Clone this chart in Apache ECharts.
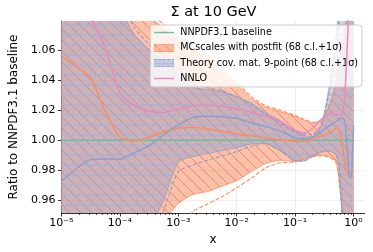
<!DOCTYPE html>
<html><head><meta charset="utf-8">
<script src="https://cdn.jsdelivr.net/npm/echarts@6/dist/echarts.min.js"></script>
<style>html,body{margin:0;padding:0;background:#fff}#c{width:373px;height:252px}</style>
</head><body><div id="c"></div>
<script>
// ---------------- data ----------------
const xGrid = [1e-5, 1.78e-5, 3.16e-5, 5.62e-5, 1e-4, 1.78e-4, 3.16e-4, 5.62e-4, 1e-3, 1.78e-3,
  3.16e-3, 5.62e-3, 0.01, 0.0178, 0.0316, 0.0562, 0.1, 0.141, 0.2, 0.282,
  0.398, 0.501, 0.562, 0.631, 0.708, 0.794, 0.851, 0.912, 0.955, 1.0];

const baseline = [1,1,1,1,1,1,1,1,1,1, 1,1,1,1,1,1,1,1,1,1, 1,1,1,1,1,1,1,1,1,1];

const nnlo = [1.13, 1.11, 1.083, 1.062, 1.0315, 1.023, 1.0195, 1.0185, 1.0208, 1.0228,
  1.0233, 1.0226, 1.021, 1.0185, 1.016, 1.0125, 1.0065, 1.0048, 1.008, 1.014,
  1.018, 1.017, 1.0175, 1.017, 1.03, 1.07, 1.1, 1.1, 1.1, 1.1];

const mcCentral = [1.056, 1.0495, 1.0415, 1.0193, 1.002, 0.9992, 1.002, 1.0055, 1.0082, 1.0085,
  1.0075, 1.006, 1.0042, 1.003, 1.0017, 1.0003, 0.9993, 0.9992, 1.0005, 1.003,
  1.005, 1.008, 1.0075, 0.998, 0.985, 0.977, 0.978, 0.979, 0.979, 0.979];
const mcLow68 = [0.9, 0.9, 0.9, 0.9, 0.9, 0.9, 0.93, 0.946, 0.9578, 0.9638,
  0.9658, 0.9694, 0.9731, 0.9791, 0.9846, 0.9866, 0.9859, 0.9875, 0.9894, 0.99,
  0.9889, 0.9855, 0.975, 0.953, 0.9, 0.9, 0.9, 0.9, 0.9, 0.9];
const mcHigh68 = [1.2, 1.2, 1.2, 1.2, 1.2, 1.2, 1.085, 1.0746, 1.0669, 1.0605,
  1.0543, 1.0459, 1.0373, 1.0277, 1.0221, 1.0191, 1.0159, 1.0135, 1.0115, 1.0132,
  1.024, 1.038, 1.048, 1.061, 1.072, 1.09, 1.2, 1.2, 1.2, 1.2];
const mcLow1s = [0.9, 0.9, 0.9, 0.9, 0.9, 0.9, 0.9, 0.92, 0.94, 0.9525,
  0.9574, 0.9624, 0.9683, 0.9748, 0.9817, 0.985, 0.9855, 0.9872, 0.989, 0.9897,
  0.9885, 0.985, 0.974, 0.952, 0.9, 0.9, 0.9, 0.9, 0.9, 0.9];
const mcHigh1s = [1.2, 1.2, 1.2, 1.2, 1.2, 1.2, 1.088, 1.077, 1.069, 1.063,
  1.057, 1.048, 1.039, 1.029, 1.023, 1.02, 1.0165, 1.014, 1.012, 1.0135,
  1.025, 1.04, 1.05, 1.063, 1.074, 1.092, 1.2, 1.2, 1.2, 1.2];

const tcCentral = [0.9727, 0.981, 0.9871, 0.9875, 0.9874, 0.9917, 0.9962, 1.0035, 1.0102, 1.0151,
  1.016, 1.0157, 1.0145, 1.0117, 1.009, 1.006, 1.0017, 1.0008, 1.002, 1.006,
  1.010, 1.0125, 1.014, 1.015, 1.013, 0.99, 0.975, 0.975, 0.99, 1.01];
const tcLow68 = [0.9, 0.9, 0.9, 0.9, 0.9, 0.92, 0.94, 0.9602, 0.9855, 0.9891,
  0.9911, 0.9931, 0.995, 0.9975, 0.9978, 0.9928, 0.9866, 0.9863, 0.9895, 0.9925,
  0.9929, 0.9905, 0.984, 0.956, 0.9, 0.9, 0.9, 0.9, 0.9, 0.9];
const tcHigh68 = [1.2, 1.2, 1.2, 1.2, 1.09, 1.0705, 1.0605, 1.0531, 1.0444, 1.0355,
  1.0337, 1.0322, 1.029, 1.0247, 1.0182, 1.0129, 1.0059, 1.0032, 1.0025, 1.0099,
  1.04, 1.07, 1.09, 1.2, 1.2, 1.2, 1.2, 1.2, 1.2, 1.2];
const tcLow1s = [0.9, 0.9, 0.9, 0.9, 0.9, 0.9, 0.93, 0.953, 0.979, 0.9835,
  0.9866, 0.9896, 0.9925, 0.996, 0.9978, 0.993, 0.9863, 0.986, 0.9893, 0.9922,
  0.9927, 0.99, 0.983, 0.955, 0.9, 0.9, 0.9, 0.9, 0.9, 0.9];
const tcHigh1s = [1.2, 1.2, 1.2, 1.2, 1.095, 1.075, 1.064, 1.056, 1.047, 1.038,
  1.035, 1.033, 1.029, 1.024, 1.017, 1.011, 1.0055, 1.004, 1.004, 1.0105,
  1.035, 1.06, 1.08, 1.2, 1.2, 1.2, 1.2, 1.2, 1.2, 1.2];

const xMajorTicks = [1e-5, 1e-4, 1e-3, 1e-2, 1e-1, 1];
const xTickLabels = ['10\u207B\u2075', '10\u207B\u2074', '10\u207B\u00B3', '10\u207B\u00B2', '10\u207B\u00B9', '10\u2070'];
const yTicks = [0.96, 0.98, 1.00, 1.02, 1.04, 1.06];

const names = {
  base: 'NNPDF3.1 baseline',
  mc: 'MCscales with postfit (68 c.l.+1\u03C3)',
  tc: 'Theory cov. mat. 9-point (68 c.l.+1\u03C3)',
  nnlo: 'NNLO'
};

// ---------------- styling helpers ----------------
const C = { teal: '#66c2a5', orange: '#fc8d62', blue: '#8da0cb', pink: '#e78ac3' };
const FONT = 'DejaVu Sans';

function makeHatch(kind, fill, line, size, lw) {
  const c = document.createElement('canvas');
  c.width = size; c.height = size;
  const g = c.getContext('2d');
  g.fillStyle = fill; g.fillRect(0, 0, size, size);
  g.strokeStyle = line; g.lineWidth = lw;
  g.beginPath();
  if (kind === 'diag') {
    [-size, 0, size].forEach(k => { g.moveTo(0, k); g.lineTo(size, size + k); });
  } else {
    g.moveTo(0, size / 2); g.lineTo(size, size / 2);
  }
  g.stroke();
  return c;
}
const orangeHatch = makeHatch('diag', 'rgba(252,141,98,0.55)', 'rgba(235,105,65,0.85)', 11, 0.8);
const blueHatch = makeHatch('horiz', 'rgba(141,160,203,0.45)', 'rgba(155,175,228,0.9)', 10, 1);

function iconLine(color) {
  const c = document.createElement('canvas'); c.width = 23; c.height = 9;
  const g = c.getContext('2d');
  g.strokeStyle = color; g.lineWidth = 1.5;
  g.beginPath(); g.moveTo(0, 4.5); g.lineTo(23, 4.5); g.stroke();
  return 'image://' + c.toDataURL();
}
function iconPatch(pat, edge) {
  const c = document.createElement('canvas'); c.width = 23; c.height = 9;
  const g = c.getContext('2d');
  g.fillStyle = g.createPattern(pat, 'repeat'); g.fillRect(0, 0, 23, 9);
  g.strokeStyle = edge; g.lineWidth = 1; g.setLineDash([3, 2]);
  g.strokeRect(0.5, 0.5, 22, 8);
  return 'image://' + c.toDataURL();
}

const pts = arr => xGrid.map((x, i) => [x, arr[i]]);
const SM = 0.2;

function lineS(name, arr, color, width, type, z) {
  return { name, type: 'line', data: pts(arr), showSymbol: false, symbol: 'none', smooth: SM,
    lineStyle: { color, width, type: type || 'solid' }, itemStyle: { color }, z: z || 3, silent: true, animation: false };
}

function bandS(name, lo, hi, pattern, edge, z) {
  return {
    name, type: 'custom', coordinateSystem: 'cartesian2d', clip: true, silent: true, z,
    itemStyle: { color: edge },
    data: [[1e-3, 1.0]],
    renderItem: (params, api) => {
      const up = xGrid.map((x, i) => api.coord([x, hi[i]]));
      const dn = xGrid.map((x, i) => api.coord([x, lo[i]]));
      return { type: 'group', children: [
        { type: 'polygon', shape: { points: up.concat(dn.slice().reverse()), smooth: SM },
          style: { fill: { image: pattern, repeat: 'repeat' }, stroke: null } },
        { type: 'polyline', shape: { points: up, smooth: SM }, style: { stroke: edge, lineWidth: 0.8, fill: null } },
        { type: 'polyline', shape: { points: dn, smooth: SM }, style: { stroke: edge, lineWidth: 0.8, fill: null } }
      ] };
    }
  };
}

const minorTicks = [];
[-5, -4, -3, -2, -1].forEach(e => { for (let k = 2; k <= 9; k++) minorTicks.push(k * Math.pow(10, e)); });

const chart = echarts.init(document.getElementById('c'), null, { renderer: 'canvas' });
chart.setOption({
  animation: false,
  backgroundColor: '#fff',
  title: { text: '\u03A3 at 10 GeV', left: 208.5, textAlign: 'center', top: 0, padding: 5,
    textStyle: { fontFamily: FONT, fontSize: 14.5, fontWeight: 'normal', color: '#000' } },
  grid: { left: 53.3, right: 8.3, top: 21, bottom: 39, containLabel: false },
  legend: {
    orient: 'vertical', right: 11, top: 25, itemWidth: 23, itemHeight: 8, itemGap: 4.3,
    padding: [2, 4, 3, 2], backgroundColor: 'rgba(255,255,255,0.8)', borderColor: '#cccccc',
    borderWidth: 1, borderRadius: 3, selectedMode: false,
    textStyle: { fontFamily: FONT, fontSize: 9.6, color: '#000', lineHeight: 11 },
    data: [
      { name: names.base, icon: iconLine(C.teal) },
      { name: names.mc, icon: iconPatch(orangeHatch, C.orange) },
      { name: names.tc, icon: iconPatch(blueHatch, C.blue) },
      { name: names.nnlo, icon: iconLine(C.pink) }
    ]
  },
  xAxis: [{
    type: 'log', logBase: 10, min: 1e-5, max: 1.55, name: 'x', nameLocation: 'middle', nameGap: 19,
    nameTextStyle: { fontFamily: FONT, fontSize: 12, color: '#000' },
    axisLine: { show: true, lineStyle: { color: '#000', width: 0.8 } },
    axisTick: { show: true, length: 3.5, lineStyle: { color: '#000', width: 0.8 }, customValues: xMajorTicks },
    axisLabel: { show: true, margin: 5, fontFamily: FONT, fontSize: 11, color: '#000', customValues: xMajorTicks,
      formatter: v => { const i = xMajorTicks.findIndex(t => Math.abs(Math.log10(t) - Math.log10(v)) < 1e-6); return i >= 0 ? xTickLabels[i] : ''; } },
    splitLine: { show: true, lineStyle: { color: '#ebebeb', width: 0.8 } },
    minorTick: { show: false }, minorSplitLine: { show: false }
  }, {
    type: 'log', logBase: 10, min: 1e-5, max: 1.55, position: 'bottom', gridIndex: 0,
    axisLine: { show: false },
    axisTick: { show: true, length: 2, lineStyle: { color: '#000', width: 0.6 }, customValues: minorTicks },
    axisLabel: { show: false }, splitLine: { show: false }
  }],
  yAxis: {
    type: 'value', min: 0.9515, max: 1.0795, name: 'Ratio to NNPDF3.1 baseline', nameLocation: 'middle',
    nameGap: 35, nameRotate: 90,
    nameTextStyle: { fontFamily: FONT, fontSize: 12, color: '#000' },
    axisLine: { show: true, lineStyle: { color: '#000', width: 0.8 } },
    axisTick: { show: true, length: 3.5, lineStyle: { color: '#000', width: 0.8 }, customValues: yTicks },
    axisLabel: { show: true, margin: 6, fontFamily: FONT, fontSize: 11, color: '#000', customValues: yTicks,
      formatter: v => v.toFixed(2) },
    splitLine: { show: true, lineStyle: { color: '#ebebeb', width: 0.8 } }
  },
  series: [
    bandS(names.mc, mcLow68, mcHigh68, orangeHatch, C.orange, 2),
    lineS('mcLow1s', mcLow1s, C.orange, 1.1, [4, 2], 2),
    lineS('mcHigh1s', mcHigh1s, C.orange, 1.1, [4, 2], 2),
    bandS(names.tc, tcLow68, tcHigh68, blueHatch, C.blue, 2),
    lineS('tcLow1s', tcLow1s, C.blue, 1.1, [4, 2], 2),
    lineS('tcHigh1s', tcHigh1s, C.blue, 1.1, [4, 2], 2),
    lineS(names.base, baseline, C.teal, 1.5, 'solid', 4),
    lineS('mcCentral', mcCentral, C.orange, 1.5, 'solid', 4),
    lineS('tcCentral', tcCentral, C.blue, 1.5, 'solid', 4),
    lineS(names.nnlo, nnlo, C.pink, 1.5, 'solid', 4)
  ]
});
</script></body></html>
